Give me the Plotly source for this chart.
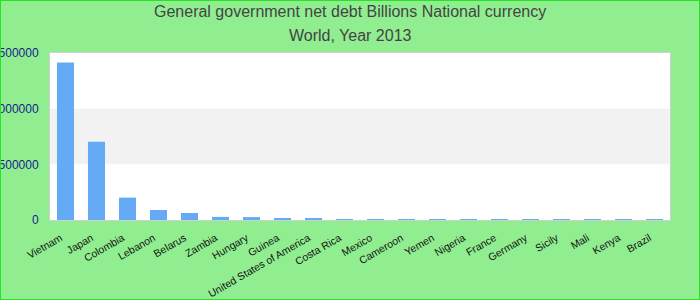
import plotly.graph_objects as go

countries = ["Vietnam", "Japan", "Colombia", "Lebanon", "Belarus", "Zambia", "Hungary",
             "Guinea", "United States of America", "Costa Rica", "Mexico", "Cameroon",
             "Yemen", "Nigeria", "France", "Germany", "Sicily", "Mali", "Kenya", "Brazil"]
debt = [1414000, 703000, 201000, 90000, 63000, 28000, 26000,
        17000, 11000, 8000, 6500, 4500,
        2500, 2000, 1500, 1200, 800, 600, 400, 300]
y_ticks = [0, 500000, 1000000, 1500000]
title_lines = ["General government net debt Billions National currency", "World, Year 2013"]

W, H = 700, 300
ML, MR, MT, MB = 50, 30, 53, 80
PW, PH = W - ML - MR, H - MT - MB

fig = go.Figure(go.Bar(x=countries, y=debt, marker_color="#64aaf5", marker_line_width=0))

shapes = [
    dict(type="rect", xref="paper", yref="y", x0=0, x1=1, y0=y_ticks[1], y1=y_ticks[2],
         fillcolor="#f2f2f2", line_width=0, layer="below"),
    dict(type="rect", xref="paper", yref="paper",
         x0=-ML / PW, x1=1 + MR / PW, y0=-MB / PH, y1=1 + MT / PH,
         line=dict(color="#22e622", width=2), fillcolor="rgba(0,0,0,0)", layer="above"),
]

title_y_px = [12, 35]
annotations = [
    dict(text=t, xref="paper", yref="paper", x=(350 - ML) / PW, y=1 + (MT - yp) / PH,
         xanchor="center", yanchor="middle", showarrow=False,
         font=dict(family="Liberation Sans, Arial", size=16, color="#444444"))
    for t, yp in zip(title_lines, title_y_px)
]

fig.update_layout(
    width=W, height=H,
    margin=dict(l=ML, r=MR, t=MT, b=MB),
    paper_bgcolor="#90ee90",
    plot_bgcolor="white",
    bargap=0.45,
    showlegend=False,
    shapes=shapes,
    annotations=annotations,
    font=dict(family="Liberation Sans, Arial"),
)
fig.update_xaxes(tickangle=-30, tickfont=dict(size=10.5, color="#111111"),
                 showline=True, linecolor="#d0d0d0", linewidth=1, mirror=True,
                 ticks="outside", ticklen=7, tickcolor="rgba(0,0,0,0)",
                 ticklabelshift=-5, automargin=False)
fig.update_yaxes(range=[0, 1500000], tickvals=y_ticks, ticktext=[str(v) for v in y_ticks],
                 tickfont=dict(size=12, color="#1a1a8c"), showgrid=False, zeroline=False,
                 showline=True, linecolor="#d0d0d0", linewidth=1, mirror=True,
                 ticks="outside", ticklen=8, tickcolor="rgba(0,0,0,0)", automargin=False)

fig.write_html("out.html")
